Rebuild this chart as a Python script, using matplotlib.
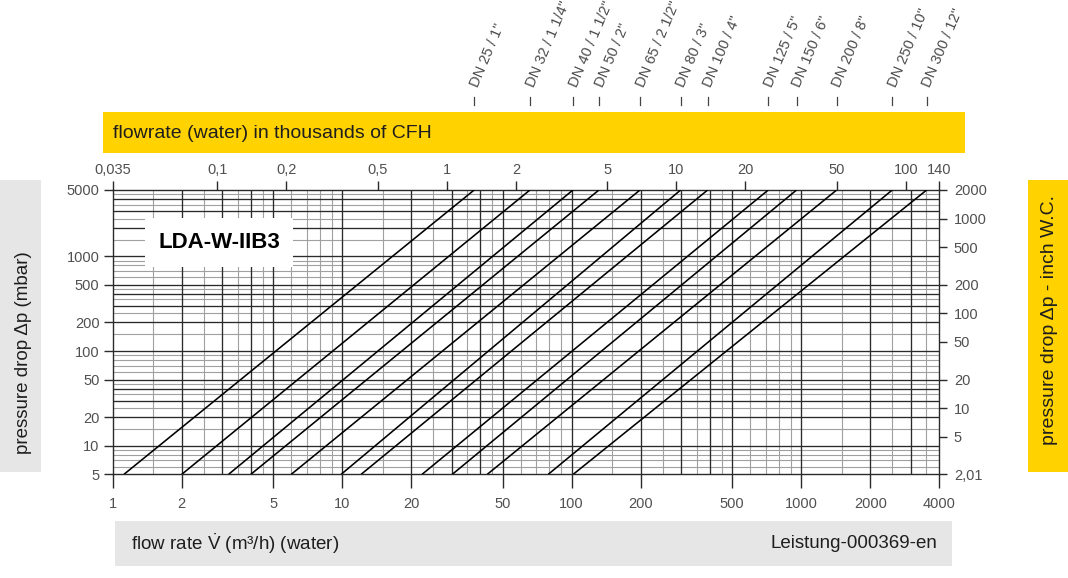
import matplotlib
matplotlib.use("Agg")
import matplotlib.pyplot as plt
from matplotlib.patches import Rectangle
from matplotlib.lines import Line2D
import matplotlib.transforms as mtransforms
from matplotlib.ticker import NullLocator, FixedLocator, FixedFormatter

plt.rcParams['font.family'] = ['Liberation Sans', 'DejaVu Sans']
plt.rcParams['mathtext.fontset'] = 'custom'
plt.rcParams['mathtext.rm'] = 'Liberation Sans'
plt.rcParams['mathtext.it'] = 'Liberation Sans:italic'
plt.rcParams['mathtext.bf'] = 'Liberation Sans:bold'

# ---------------- data ----------------
dn_labels = ['DN 25 / 1"', 'DN 32 / 1 1/4"', 'DN 40 / 1 1/2"', 'DN 50 / 2"',
             'DN 65 / 2 1/2"', 'DN 80 / 3"', 'DN 100 / 4"', 'DN 125 / 5"',
             'DN 150 / 6"', 'DN 200 / 8"', 'DN 250 / 10"', 'DN 300 / 12"']
# flow rate (m3/h) where each line reaches 5 mbar and 5000 mbar
flow_at_5mbar = [1.12, 2.0, 3.2, 4.0, 6.0, 9.9, 12.1, 22.3, 30.2, 42.9, 79.1, 101.6]
flow_at_5000mbar = [37.6, 65.8, 101.3, 131.5, 198.5, 298.5, 391.4, 719, 955, 1428, 2494, 3523]
dp_ends = [5, 5000]

x_ticks = [1, 2, 5, 10, 20, 50, 100, 200, 500, 1000, 2000, 4000]
x_ticklabels = ['1', '2', '5', '10', '20', '50', '100', '200', '500', '1000', '2000', '4000']
y_ticks = [5, 10, 20, 50, 100, 200, 500, 1000, 5000]
y_ticklabels = ['5', '10', '20', '50', '100', '200', '500', '1000', '5000']
top_ticks = [0.035, 0.1, 0.2, 0.5, 1, 2, 5, 10, 20, 50, 100, 140]
top_ticklabels = ['0,035', '0,1', '0,2', '0,5', '1', '2', '5', '10', '20', '50', '100', '140']
right_ticks = [2.01, 5, 10, 20, 50, 100, 200, 500, 1000, 2000]
right_ticklabels = ['2,01', '5', '10', '20', '50', '100', '200', '500', '1000', '2000']

grid_major = [1, 2, 3, 4, 5]
grid_minor = [1.5, 2.5, 3.5, 4.5, 6, 7, 8, 9]

# ---------------- figure ----------------
W, H = 1068, 578
fig = plt.figure(figsize=(W / 100, H / 100), dpi=100)

def fx(px):
    return px / W

def fy(py):
    return 1 - py / H

x0, x1 = 112.7, 939.3
y0, y1 = 190.0, 474.3
ax = fig.add_axes([fx(x0), fy(y1), fx(x1) - fx(x0), (y1 - y0) / H])
ax.set_xscale('log')
ax.set_yscale('log')
ax.set_xlim(1, 4000)
ax.set_ylim(5, 5000)

tick_col = '#505050'
dark = '#2a2a2a'
light = '#a0a0a0'

# grid
for dec in [1, 10, 100, 1000]:
    for m in grid_minor:
        v = m * dec
        if 1 < v < 4000:
            ax.axvline(v, color=light, lw=0.8, zorder=1)
    for m in grid_major:
        v = m * dec
        if 1 < v < 4000:
            ax.axvline(v, color=dark, lw=0.95, zorder=2)
for dec in [1, 10, 100, 1000]:
    for m in grid_minor:
        v = m * dec
        if 5 < v < 5000:
            ax.axhline(v, color=light, lw=0.8, zorder=1)
    for m in grid_major:
        v = m * dec
        if 5 < v < 5000:
            ax.axhline(v, color=dark, lw=0.95, zorder=2)

# characteristic lines
for a, b in zip(flow_at_5mbar, flow_at_5000mbar):
    ax.plot([a, b], dp_ends, color='black', lw=1.15, zorder=4, solid_capstyle='butt')

for s in ax.spines.values():
    s.set_color(dark)
    s.set_linewidth(1.0)

ax.set_xticks(x_ticks)
ax.set_xticklabels(x_ticklabels)
ax.set_yticks(y_ticks)
ax.set_yticklabels(y_ticklabels)
ax.xaxis.set_minor_locator(NullLocator())
ax.yaxis.set_minor_locator(NullLocator())
ax.tick_params(axis='x', direction='out', length=10, width=1, color=dark,
               pad=6.5, labelsize=10.5, labelcolor=tick_col)
ax.tick_params(axis='y', direction='out', length=6.5, width=1, color=dark,
               pad=3, labelsize=10.5, labelcolor=tick_col)

# top axis (thousands of CFH)
axt = ax.twiny()
axt.set_xscale('log')
axt.set_xlim(0.035, 140)
axt.xaxis.set_major_locator(FixedLocator(top_ticks))
axt.xaxis.set_major_formatter(FixedFormatter(top_ticklabels))
axt.xaxis.set_minor_locator(NullLocator())
axt.tick_params(axis='x', direction='out', length=6.5, width=1, color=dark,
                pad=3, labelsize=10.5, labelcolor=tick_col)
for s in axt.spines.values():
    s.set_visible(False)

# right axis (inch W.C.)
axr = ax.twinx()
axr.set_yscale('log')
axr.set_ylim(2.01, 2000)
axr.yaxis.set_major_locator(FixedLocator(right_ticks))
axr.yaxis.set_major_formatter(FixedFormatter(right_ticklabels))
axr.yaxis.set_minor_locator(NullLocator())
axr.tick_params(axis='y', direction='out', length=5.5, width=1, color=dark,
                pad=5, labelsize=10.5, labelcolor=tick_col)
for s in axr.spines.values():
    s.set_visible(False)

# ---------------- decorations ----------------
def box(px0, py0, px1, py1, color, z=1):
    fig.patches.append(Rectangle((fx(px0), fy(py1)), fx(px1) - fx(px0), (py1 - py0) / H,
                                 transform=fig.transFigure, facecolor=color,
                                 edgecolor='none', zorder=z))

yellow = '#FFD200'
grey = '#E6E6E6'
txt = '#1e1e1e'
box(103, 112, 965, 153, yellow)
fig.text(fx(113), fy(133), 'flowrate (water) in thousands of CFH', fontsize=14,
         ha='left', va='center', color=txt)

box(0, 180, 41, 472, grey)
fig.text(fx(24), fy(353), 'pressure drop \u0394p (mbar)', fontsize=13.5, rotation=90,
         ha='center', va='center', color=txt)

box(1028, 180, 1068, 472, yellow)
fig.text(fx(1050), fy(320), 'pressure drop \u0394p - inch W.C.', fontsize=14, rotation=90,
         ha='center', va='center', color=txt)

box(115, 521, 952, 566, grey)
fig.text(fx(131), fy(544), 'flow rate $\\dot{\\mathrm{V}}$ (m\u00b3/h) (water)',
         fontsize=13.5, ha='left', va='center', color=txt)
fig.text(fx(937), fy(544), 'Leistung-000369-en', fontsize=13.5,
         ha='right', va='center', color=txt)

# model label
box(145, 218, 293, 267, 'white', z=2)
fig.text(fx(219), fy(243), 'LDA-W-IIB3', fontsize=16, fontweight='bold',
         ha='center', va='center', color='black', zorder=3)

# DN labels at the upper ends of the lines
blend = mtransforms.blended_transform_factory(ax.transData, fig.transFigure)
for lab, xe in zip(dn_labels, flow_at_5000mbar):
    fig.lines.append(Line2D([xe, xe], [fy(97), fy(105)], transform=blend,
                            color='#444444', lw=0.9))
    fig.text(xe, fy(86), lab, transform=blend, rotation=67, rotation_mode='anchor',
             ha='left', va='center', fontsize=10.5, color='#4a4a4a')

fig.savefig('out.png', dpi=100)
